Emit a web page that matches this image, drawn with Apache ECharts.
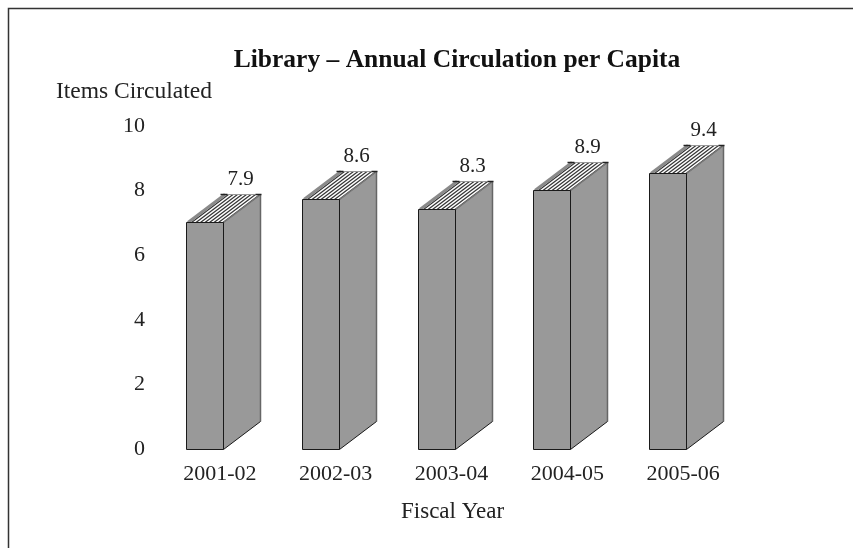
<!DOCTYPE html>
<html>
<head>
<meta charset="utf-8">
<style>
  html, body { margin: 0; padding: 0; background: #fff; }
  #chart { width: 853px; height: 548px; }
</style>
<script src="https://cdn.jsdelivr.net/npm/echarts@6/dist/echarts.min.js"></script>
</head>
<body>
<div id="chart"></div>
<script>
var fiscalYears = ['2001-02', '2002-03', '2003-04', '2004-05', '2005-06']
var circulation = [7.9, 8.6, 8.3, 8.9, 9.4]
var yTicks = [0, 2, 4, 6, 8, 10]

var font = '"Liberation Serif", serif'
var textColor = '#222'
var edge = '#1a1a1a'
var barGray = '#999999'

// size of the fake 3d block
var frontW = 37
var depthX = 37
var depthY = 28

function seg(x1, y1, x2, y2, color, width) {
  return {
    type: 'line',
    shape: { x1: x1, y1: y1, x2: x2, y2: y2 },
    style: { stroke: color, lineWidth: width }
  }
}

function renderBar(params, api) {
  var top = api.coord([api.value(0), api.value(1)])
  var base = api.coord([api.value(0), 0])
  var x0 = Math.round(top[0] - 34) + 0.5
  var x1 = x0 + frontW
  var yBack = Math.round(top[1]) + 0.5
  var yFront = yBack + depthY
  var yBase = Math.round(base[1]) + 0.5
  var children = []

  // side
  children.push({
    type: 'polygon',
    shape: { points: [[x1, yFront], [x1 + depthX, yBack], [x1 + depthX, yBase - depthY], [x1, yBase]] },
    style: { fill: barGray }
  })
  children.push(seg(x1 + depthX, yBack, x1 + depthX, yBase - depthY, '#666', 1.5))
  children.push(seg(x1, yBase, x1 + depthX, yBase - depthY, edge, 1))
  // top, white with stripes
  children.push({
    type: 'polygon',
    shape: { points: [[x0, yFront], [x1, yFront], [x1 + depthX, yBack], [x0 + depthX, yBack]] },
    style: { fill: '#fff' }
  })
  for (var t = 5; t < frontW; t += 4.5) {
    children.push(seg(x0 + t, yFront, x0 + depthX + t, yBack, '#333', 1.2))
  }
  children.push(seg(x0 + 1.5, yFront, x0 + depthX + 1.5, yBack, '#8a8a8a', 3))
  children.push(seg(x1, yFront, x1 + depthX, yBack, '#777', 1.5))
  children.push(seg(x0 + depthX, yBack, x1 + depthX, yBack, '#999', 1))
  // dark corners on the back edge
  children.push(seg(x0 + depthX - 3, yBack, x0 + depthX + 4, yBack, '#222', 1.5))
  children.push(seg(x1 + depthX - 5, yBack, x1 + depthX + 1, yBack, '#222', 1.5))
  // front
  children.push({
    type: 'rect',
    shape: { x: x0, y: yFront, width: frontW, height: yBase - yFront },
    style: { fill: barGray, stroke: edge, lineWidth: 1 }
  })
  // value label
  children.push({
    type: 'text',
    style: {
      x: x0 + 54, y: yBack - 15,
      text: String(api.value(1)),
      font: '21px ' + font,
      fill: textColor,
      align: 'center',
      verticalAlign: 'middle'
    }
  })
  return { type: 'group', children: children }
}

var chart = echarts.init(document.getElementById('chart'))
chart.setOption({
  animation: false,
  backgroundColor: '#fff',
  grid: { left: 162, right: 112, top: 126, bottom: 99 },
  title: {
    text: 'Library – Annual Circulation per Capita',
    left: 452,
    top: 42,
    textAlign: 'center',
    textStyle: { fontFamily: font, fontWeight: 'bold', fontSize: 25.5, color: '#111' }
  },
  graphic: [
    { type: 'polyline', shape: { points: [[8.5, 548], [8.5, 8.5], [853, 8.5]] }, style: { stroke: '#333', lineWidth: 1.5, fill: null } },
    { type: 'text', style: { text: 'Items Circulated', font: '23.5px ' + font, fill: textColor }, left: 56, top: 80 },
    { type: 'text', style: { text: 'Fiscal Year', font: '23px ' + font, fill: textColor }, left: 401, top: 500 }
  ],
  xAxis: {
    type: 'category',
    data: fiscalYears,
    axisLine: { show: false },
    axisTick: { show: false },
    axisLabel: { margin: 14, fontFamily: font, fontSize: 22, color: textColor }
  },
  yAxis: {
    type: 'value',
    min: 0,
    max: 10,
    interval: 2,
    axisLine: { show: false },
    axisTick: { show: false },
    splitLine: { show: false },
    axisLabel: {
      margin: 17,
      fontFamily: font,
      fontSize: 22,
      color: textColor,
      formatter: function (v) { return yTicks.indexOf(v) >= 0 ? String(v) : '' }
    }
  },
  series: [{
    type: 'custom',
    renderItem: renderBar,
    clip: false,
    data: fiscalYears.map(function (y, i) { return [i, circulation[i]] })
  }]
})
</script>
</body>
</html>
